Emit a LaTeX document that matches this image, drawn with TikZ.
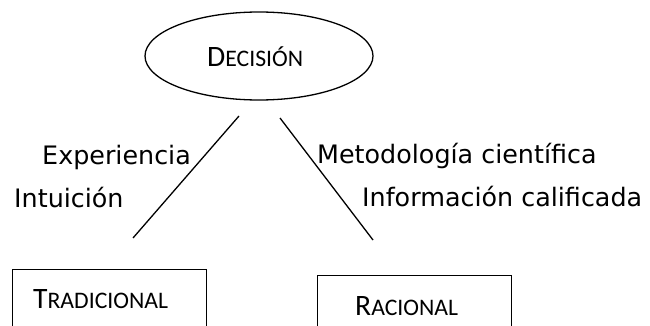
\documentclass[tikz,border=0pt]{standalone}
\usepackage{fontspec}
\setmainfont{DejaVu Sans}
\newfontfamily\calfont{Carlito}
\usetikzlibrary{shapes.geometric}
\newcommand\mysc[2]{{\calfont\fontsize{29.6}{30}\selectfont #1\fontsize{23.7}{24}\selectfont #2}}
\tikzset{
  shapeline/.style={draw=black, line width=1.3pt},
  lbl/.style={inner sep=0pt, anchor=base west, font=\fontsize{25.4}{26}\selectfont},
  sclbl/.style={inner sep=0pt, anchor=base west},
  conn/.style={draw=black, line width=1.3pt}
}
\begin{document}
\begin{tikzpicture}[x=1pt,y=-1pt]
\clip (0,0) rectangle (650,326);
\useasboundingbox (0,0) rectangle (650,326);
% top ellipse
\node[shapeline, ellipse, minimum width=228pt, minimum height=88pt, inner sep=0pt] (dec) at (259,56) {};
\node[sclbl] (dect) at (207,67) {\mysc{D}{ECISIÓN}};
% boxes
\node[shapeline, rectangle, minimum width=194pt, minimum height=80pt, inner sep=0pt, anchor=north west] (trad) at (12,269) {};
\node[sclbl] (tradt) at (33,308) {\mysc{T}{RADICIONAL}};
\node[shapeline, rectangle, minimum width=194pt, minimum height=80pt, inner sep=0pt, anchor=north west] (rac) at (317,275) {};
\node[sclbl] (ract) at (355,315) {\mysc{R}{ACIONAL}};
% connector ends
\coordinate (la) at (239,116);
\coordinate (lb) at (133,238);
\coordinate (ra) at (280,118);
\coordinate (rb) at (373,240);
\draw[conn] (la) -- (lb);
\draw[conn] (ra) -- (rb);
% labels
\node[lbl] (exp) at (42,164) {Experiencia};
\node[lbl] (int) at (14,207) {Intuición};
\node[lbl] (met) at (317,163) {Metodología científica};
\node[lbl] (inf) at (362,206) {Información calificada};
\end{tikzpicture}
\end{document}
